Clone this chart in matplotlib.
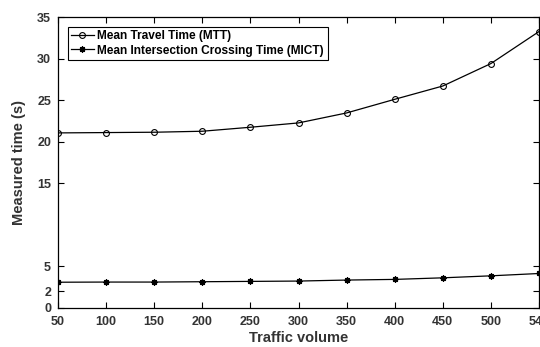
import numpy as np
import matplotlib
matplotlib.use('Agg')
from matplotlib import pyplot as plt

# data
volumes = ['50', '100', '150', '200', '250', '300', '350', '400', '450', '500', '540']
mtt = [21.06, 21.1, 21.14, 21.26, 21.74, 22.26, 23.46, 25.1, 26.7, 29.4, 33.25]
mict = [3.1, 3.12, 3.12, 3.16, 3.2, 3.24, 3.36, 3.44, 3.63, 3.87, 4.15]
yticks = [0, 2, 5, 15, 20, 25, 30, 35]

plt.rcParams['font.family'] = ['Liberation Sans', 'DejaVu Sans']
plt.rcParams['font.weight'] = 'bold'

fig = plt.figure(figsize=(5.4, 3.47), dpi=100)
ax = fig.add_axes([58/540, 1 - 308/347, 481/540, 291/347])

x = np.arange(len(volumes))
ax.plot(x, mtt, color='black', lw=0.9, marker='o', ms=4.2, mfc='none', mec='black', mew=0.8,
        label='Mean Travel Time (MTT)')
ax.plot(x, mict, color='black', lw=0.9, marker=(8, 2, 0), ms=4.5, mfc='black', mec='black', mew=0.9,
        label='Mean Intersection Crossing Time (MICT)')

ax.set_xlim(0, len(volumes) - 1)
ax.set_ylim(0, 35)
ax.set_xticks(x)
ax.set_xticklabels(volumes)
ax.set_yticks(yticks)

tc = '#333333'
ax.tick_params(direction='in', length=4, width=0.8, top=True, right=True,
               labelsize=9, labelcolor=tc)
ax.tick_params(axis='x', pad=6)
ax.tick_params(axis='y', pad=5)
for lab in ax.get_xticklabels() + ax.get_yticklabels():
    lab.set_fontweight('bold')
for s in ax.spines.values():
    s.set_linewidth(0.9)

ax.set_xlabel('Traffic volume', fontsize=10.5, fontweight='bold', color=tc, labelpad=2)
ax.set_ylabel('Measured time (s)', fontsize=10.5, fontweight='bold', color=tc, labelpad=8)

leg = ax.legend(loc='upper left', frameon=True, fancybox=False,
                edgecolor='black', borderpad=0.3, labelspacing=0.2,
                handlelength=1.9, handletextpad=0.3, borderaxespad=0.8,
                prop={'weight': 'bold', 'size': 8.6})
leg.get_frame().set_linewidth(0.8)
leg.get_frame().set_alpha(1)

fig.savefig('out.png', dpi=100)
